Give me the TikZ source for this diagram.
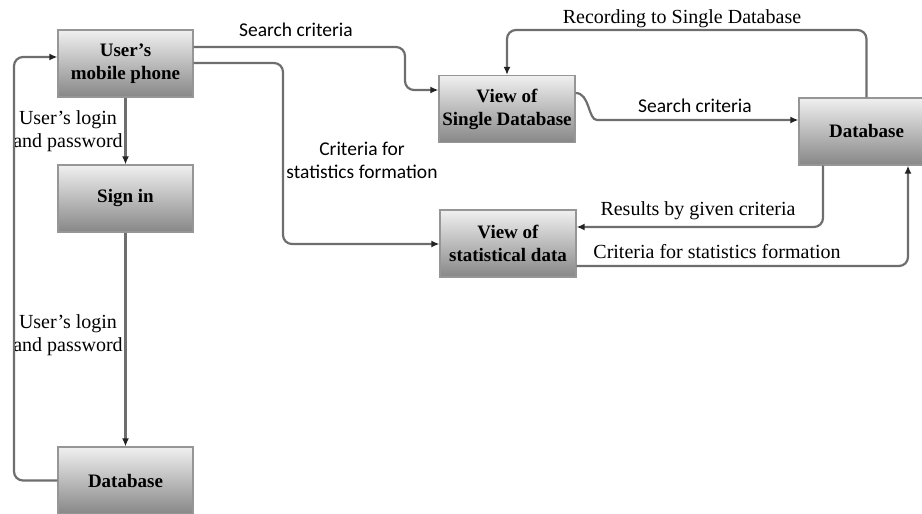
\documentclass[tikz,border=0pt]{standalone}
\usepackage{fontspec}
\setmainfont{Liberation Serif}
\newfontfamily\labsans{Carlito}
\usetikzlibrary{arrows.meta}

\definecolor{boxtop}{RGB}{240,240,240}
\definecolor{boxbot}{RGB}{135,135,135}
\definecolor{boxline}{RGB}{150,150,150}
\definecolor{wire}{RGB}{110,110,110}
\definecolor{tipc}{RGB}{35,35,35}

\tikzset{
  procbox/.style={draw=boxline, line width=1.2pt, top color=boxtop, bottom color=boxbot,
    minimum width=135pt, minimum height=67pt, inner sep=0pt, align=center,
    font=\bfseries\fontsize{19}{23}\selectfont},
  conn/.style={draw=wire, line width=2.2pt, rounded corners=9pt,
    -{Latex[length=8pt,width=7pt,color=tipc]}},
  lab/.style={align=center, inner sep=0pt, font=\fontsize{20}{23}\selectfont},
  sanslab/.style={lab, font=\labsans\fontsize{19.5}{23}\selectfont}
}

\begin{document}
\begin{tikzpicture}[x=1pt,y=-1pt]
  \useasboundingbox (0,0) rectangle (922,514);

  % process boxes
  \node[procbox] (phone)  at (125.5,63.5)  {User's\\mobile phone};
  \node[procbox] (signin) at (125.5,198.5) {Sign in};
  \node[procbox] (dbl)    at (125.5,480.5) {Database};
  \node[procbox, minimum width=136pt] (vsd) at (507,109)   {View of\\Single Database};
  \node[procbox, minimum width=136pt] (vst) at (508,243.5) {View of\\statistical data};
  \node[procbox] (db)     at (866.5,131.5) {Database};

  % phone -> view of single database
  \draw[conn] (phone.east |- 0,47) -- (405,47) -- (405,90) -- (vsd.west |- 0,90);
  \node[sanslab] (l1) at (296,30) {Search criteria};

  % phone -> view of statistical data
  \draw[conn] (phone.east |- 0,63) -- (283,63) -- (283,244) -- (vst.west |- 0,244);
  \node[sanslab] (l2) at (362,160) {Criteria for\\statistics formation};

  % login chain
  \draw[conn] (phone.south) -- (signin.north);
  \node[lab] (l3) at (68,131) {User's login\\and password};
  \draw[conn] (signin.south) -- (dbl.north);
  \node[lab] (l4) at (68,335) {User's login\\and password};

  % database back to phone
  \draw[conn] (dbl.west) -- (14,480.5) -- (14,57) -- (phone.west |- 0,57);

  % view of single database -> database
  \draw[conn] (vsd.east |- 0,93) .. controls (590,93) and (588,120) .. (606,120) -- (db.west |- 0,120);
  \node[sanslab] (l5) at (695,106) {Search criteria};

  % database -> view of single database
  \draw[conn] (db.north) -- (866.5,30) -- (507,30) -- (vsd.north);
  \node[lab] (l6) at (682,19) {Recording to Single Database};

  % database -> view of statistical data
  \draw[conn] (db.south -| 823,0) -- (823,227) -- (vst.east |- 0,227);
  \node[lab] (l7) at (698,211) {Results by given criteria};

  % view of statistical data -> database
  \draw[conn] (vst.east |- 0,266) -- (908,266) -- (db.south -| 908,0);
  \node[lab] (l8) at (717,252) {Criteria for statistics formation};
\end{tikzpicture}
\end{document}
